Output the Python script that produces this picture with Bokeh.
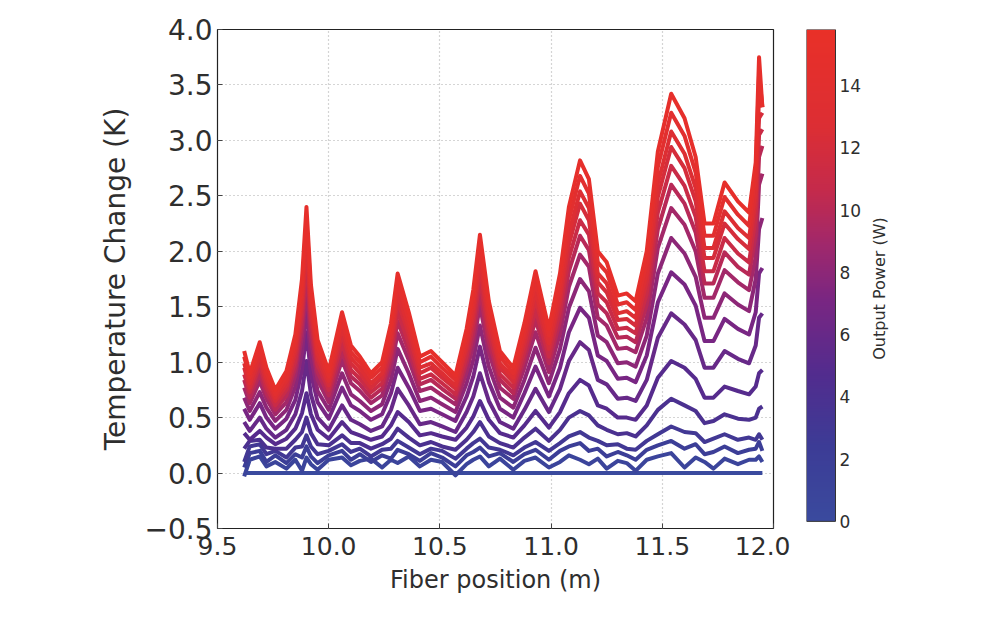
import math
import numpy as np
from bokeh.plotting import figure
from bokeh.layouts import row
from bokeh.models import LinearColorMapper, FixedTicker, Range1d
from bokeh.core.properties import value
from bokeh.embed import file_html
from bokeh.resources import INLINE

# ---------------- data ----------------
fiber_pos = [9.62, 9.645, 9.69, 9.72, 9.76, 9.81, 9.85, 9.88, 9.90, 9.92,
             9.95, 10.00, 10.06, 10.10, 10.14, 10.19, 10.24, 10.28, 10.31, 10.36,
             10.41, 10.46, 10.51, 10.57, 10.62, 10.65, 10.68, 10.72, 10.77, 10.83,
             10.88, 10.93, 10.99, 11.04, 11.08, 11.13, 11.17, 11.21, 11.25, 11.30,
             11.34, 11.38, 11.43, 11.48, 11.54, 11.60, 11.65, 11.69, 11.73, 11.78,
             11.84, 11.89, 11.92, 11.935, 11.95]

power_w = [0, 1, 2, 3, 4, 5, 6, 7, 8, 9, 10, 11, 12, 13, 14, 15]

dT_p0 = [0.0] * len(fiber_pos)
dT_p1 = [-0.03, 0.12, 0.15, 0.06, 0.10, 0.04, 0.12, 0.02, 0.14, 0.08,
         0.03, 0.12, 0.14, 0.07, 0.11, 0.13, 0.05, 0.12, 0.09, 0.15,
         0.06, 0.12, 0.10, -0.02, 0.08, 0.12, 0.15, 0.06, 0.13, 0.03,
         0.11, 0.14, 0.05, 0.10, 0.16, 0.12, 0.08, 0.13, 0.04, 0.11,
         0.09, 0.02, 0.12, 0.15, 0.18, 0.05, 0.14, 0.10, 0.04, 0.13,
         0.08, 0.12, 0.12, 0.15, 0.10]
dT_p2 = [0.05, 0.18, 0.20, 0.10, 0.16, 0.09, 0.17, 0.14, 0.24, 0.15,
         0.09, 0.16, 0.20, 0.12, 0.17, 0.10, 0.16, 0.13, 0.21, 0.17,
         0.11, 0.18, 0.14, 0.06, 0.16, 0.19, 0.23, 0.15, 0.18, 0.10,
         0.17, 0.21, 0.12, 0.20, 0.24, 0.27, 0.20, 0.22, 0.15, 0.19,
         0.16, 0.12, 0.21, 0.25, 0.29, 0.22, 0.26, 0.17, 0.19, 0.24,
         0.18, 0.21, 0.22, 0.28, 0.20]
dT_p3 = [0.10, 0.24, 0.26, 0.17, 0.20, 0.14, 0.23, 0.24, 0.34, 0.24,
         0.17, 0.20, 0.26, 0.19, 0.22, 0.15, 0.21, 0.22, 0.29, 0.23,
         0.17, 0.22, 0.20, 0.13, 0.22, 0.27, 0.31, 0.23, 0.21, 0.16,
         0.23, 0.28, 0.20, 0.27, 0.33, 0.37, 0.32, 0.29, 0.25, 0.26,
         0.22, 0.21, 0.29, 0.35, 0.42, 0.37, 0.36, 0.28, 0.31, 0.35,
         0.30, 0.32, 0.30, 0.35, 0.30]
dT_p4 = [0.22, 0.29, 0.30, 0.23, 0.22, 0.22, 0.30, 0.37, 0.50, 0.36,
         0.26, 0.25, 0.34, 0.27, 0.27, 0.22, 0.26, 0.31, 0.40, 0.32,
         0.25, 0.28, 0.24, 0.21, 0.30, 0.37, 0.46, 0.33, 0.27, 0.23,
         0.32, 0.40, 0.29, 0.39, 0.50, 0.56, 0.52, 0.43, 0.39, 0.35,
         0.36, 0.33, 0.43, 0.57, 0.67, 0.61, 0.56, 0.45, 0.47, 0.53,
         0.49, 0.48, 0.50, 0.58, 0.60]
dT_p5 = [0.36, 0.30, 0.38, 0.32, 0.26, 0.31, 0.40, 0.54, 0.72, 0.53,
         0.39, 0.31, 0.46, 0.37, 0.34, 0.30, 0.33, 0.43, 0.55, 0.46,
         0.34, 0.36, 0.33, 0.30, 0.41, 0.51, 0.65, 0.48, 0.36, 0.32,
         0.43, 0.56, 0.41, 0.55, 0.72, 0.84, 0.79, 0.61, 0.58, 0.50,
         0.50, 0.48, 0.61, 0.86, 1.01, 0.95, 0.85, 0.68, 0.68, 0.78,
         0.74, 0.71, 0.78, 0.90, 0.93]
dT_p6 = [0.46, 0.38, 0.50, 0.40, 0.32, 0.39, 0.53, 0.74, 1.01, 0.71,
         0.50, 0.39, 0.61, 0.48, 0.44, 0.38, 0.42, 0.57, 0.76, 0.61,
         0.44, 0.46, 0.42, 0.37, 0.55, 0.69, 0.90, 0.65, 0.46, 0.40,
         0.57, 0.76, 0.55, 0.76, 1.01, 1.18, 1.11, 0.84, 0.80, 0.67,
         0.68, 0.65, 0.84, 1.22, 1.44, 1.34, 1.20, 0.95, 0.95, 1.10,
         1.03, 0.99, 1.15, 1.40, 1.44]
dT_p7 = [0.58, 0.48, 0.63, 0.50, 0.40, 0.49, 0.66, 0.93, 1.27, 0.90,
         0.64, 0.49, 0.77, 0.61, 0.56, 0.48, 0.53, 0.72, 0.95, 0.77,
         0.56, 0.58, 0.53, 0.47, 0.69, 0.87, 1.14, 0.82, 0.58, 0.50,
         0.72, 0.96, 0.69, 0.95, 1.27, 1.49, 1.40, 1.06, 1.01, 0.85,
         0.86, 0.82, 1.06, 1.54, 1.81, 1.70, 1.51, 1.19, 1.19, 1.39,
         1.30, 1.25, 1.45, 1.80, 1.85]
dT_p8 = [0.68, 0.56, 0.73, 0.59, 0.47, 0.57, 0.78, 1.09, 1.49, 1.05,
         0.74, 0.57, 0.90, 0.71, 0.65, 0.56, 0.62, 0.84, 1.12, 0.90,
         0.65, 0.68, 0.62, 0.55, 0.81, 1.02, 1.33, 0.96, 0.68, 0.59,
         0.84, 1.13, 0.81, 1.12, 1.49, 1.75, 1.64, 1.24, 1.18, 0.99,
         1.00, 0.96, 1.24, 1.80, 2.12, 1.98, 1.77, 1.40, 1.40, 1.62,
         1.52, 1.46, 1.75, 2.20, 2.30]
dT_p9 = [0.77, 0.63, 0.83, 0.67, 0.53, 0.64, 0.88, 1.23, 1.68, 1.19,
         0.84, 0.64, 1.02, 0.81, 0.74, 0.63, 0.70, 0.95, 1.26, 1.02,
         0.74, 0.77, 0.70, 0.62, 0.91, 1.16, 1.51, 1.09, 0.77, 0.67,
         0.95, 1.27, 0.91, 1.26, 1.68, 1.97, 1.86, 1.40, 1.33, 1.12,
         1.13, 1.09, 1.40, 2.03, 2.39, 2.24, 2.00, 1.58, 1.58, 1.83,
         1.72, 1.65, 1.95, 2.60, 2.70]
dT_p10 = [0.84, 0.68, 0.90, 0.72, 0.57, 0.70, 0.95, 1.33, 1.82, 1.29,
          0.91, 0.70, 1.10, 0.87, 0.80, 0.68, 0.76, 1.03, 1.37, 1.10,
          0.80, 0.84, 0.76, 0.67, 0.99, 1.25, 1.63, 1.18, 0.84, 0.72,
          1.03, 1.38, 0.99, 1.37, 1.82, 2.14, 2.01, 1.52, 1.44, 1.22,
          1.23, 1.18, 1.52, 2.20, 2.60, 2.43, 2.17, 1.71, 1.71, 1.99,
          1.86, 1.79, 2.15, 2.85, 2.95]
dT_p11 = [0.89, 0.73, 0.96, 0.77, 0.61, 0.75, 1.01, 1.42, 1.94, 1.38,
          0.97, 0.75, 1.17, 0.93, 0.85, 0.73, 0.81, 1.09, 1.46, 1.17,
          0.85, 0.89, 0.81, 0.71, 1.05, 1.34, 1.74, 1.26, 0.89, 0.77,
          1.09, 1.47, 1.05, 1.46, 1.94, 2.28, 2.15, 1.62, 1.54, 1.30,
          1.31, 1.26, 1.62, 2.35, 2.77, 2.59, 2.31, 1.82, 1.82, 2.12,
          1.98, 1.90, 2.30, 3.05, 3.10]
dT_p12 = [0.95, 0.77, 1.01, 0.82, 0.65, 0.79, 1.08, 1.51, 2.06, 1.46,
          1.03, 0.79, 1.25, 0.99, 0.90, 0.77, 0.86, 1.16, 1.55, 1.25,
          0.90, 0.95, 0.86, 0.76, 1.12, 1.42, 1.85, 1.33, 0.95, 0.82,
          1.16, 1.57, 1.12, 1.55, 2.06, 2.43, 2.28, 1.72, 1.63, 1.38,
          1.39, 1.33, 1.72, 2.49, 2.94, 2.75, 2.45, 1.94, 1.94, 2.25,
          2.11, 2.02, 2.45, 3.20, 3.25]
dT_p13 = [0.99, 0.81, 1.06, 0.86, 0.68, 0.83, 1.13, 1.58, 2.16, 1.53,
          1.08, 0.83, 1.31, 1.04, 0.95, 0.81, 0.90, 1.22, 1.62, 1.31,
          0.95, 0.99, 0.90, 0.79, 1.17, 1.49, 1.94, 1.40, 0.99, 0.86,
          1.22, 1.64, 1.17, 1.62, 2.16, 2.54, 2.39, 1.80, 1.71, 1.44,
          1.46, 1.40, 1.80, 2.61, 3.08, 2.88, 2.57, 2.03, 2.03, 2.36,
          2.21, 2.12, 2.55, 3.40, 3.30]
dT_p14 = [1.05, 0.86, 1.12, 0.90, 0.71, 0.87, 1.19, 1.66, 2.28, 1.62,
          1.14, 0.87, 1.38, 1.09, 1.00, 0.86, 0.95, 1.28, 1.71, 1.38,
          1.00, 1.05, 0.95, 0.84, 1.24, 1.57, 2.04, 1.47, 1.05, 0.90,
          1.28, 1.73, 1.24, 1.71, 2.28, 2.68, 2.52, 1.90, 1.81, 1.52,
          1.54, 1.47, 1.90, 2.76, 3.25, 3.04, 2.71, 2.14, 2.14, 2.49,
          2.33, 2.23, 2.70, 3.60, 3.30]
dT_p15 = [1.10, 0.90, 1.18, 0.95, 0.75, 0.92, 1.25, 1.75, 2.40, 1.70,
          1.20, 0.92, 1.45, 1.15, 1.05, 0.90, 1.00, 1.35, 1.80, 1.45,
          1.05, 1.10, 1.00, 0.88, 1.30, 1.65, 2.15, 1.55, 1.10, 0.95,
          1.35, 1.82, 1.30, 1.80, 2.40, 2.82, 2.65, 2.00, 1.90, 1.60,
          1.62, 1.55, 2.00, 2.90, 3.42, 3.20, 2.85, 2.25, 2.25, 2.62,
          2.45, 2.35, 2.80, 3.75, 3.30]

series = [dT_p0, dT_p1, dT_p2, dT_p3, dT_p4, dT_p5, dT_p6, dT_p7,
          dT_p8, dT_p9, dT_p10, dT_p11, dT_p12, dT_p13, dT_p14, dT_p15]

x_ticks = [9.5, 10.0, 10.5, 11.0, 11.5, 12.0]
y_ticks = [-0.5, 0.0, 0.5, 1.0, 1.5, 2.0, 2.5, 3.0, 3.5, 4.0]
cbar_ticks = [0, 2, 4, 6, 8, 10, 12, 14]
cbar_labels = ["0", "2", "4", "6", "8", "10", "12", "14"]
cbar_max = 15.8

# ---------------- colormap (blue -> purple -> red) ----------------
anchors = [(0.0, (58, 74, 158)), (0.15, (60, 60, 150)), (0.3, (82, 44, 142)),
           (0.45, (122, 38, 130)), (0.56, (160, 40, 108)), (0.67, (196, 42, 76)),
           (0.8, (220, 46, 52)), (1.0, (233, 48, 40))]


def cmap(t):
    t = min(max(t, 0.0), 1.0)
    for (t0, c0), (t1, c1) in zip(anchors[:-1], anchors[1:]):
        if t <= t1:
            f = (t - t0) / (t1 - t0)
            return "#%02x%02x%02x" % tuple(int(round(a + (b - a) * f)) for a, b in zip(c0, c1))
    return "#%02x%02x%02x" % anchors[-1][1]


palette = [cmap(i / 255) for i in range(256)]

FONT = "DejaVu Sans"
TXT = "#2e2e2e"

# ---------------- main plot ----------------
p = figure(frame_width=556, frame_height=499, output_backend="svg", toolbar_location=None,
           x_range=Range1d(9.5, 12.0), y_range=Range1d(-0.5, 4.0),
           min_border_left=217, min_border_right=17, min_border_top=29, min_border_bottom=70)

for pw, ys in zip(power_w, series):
    p.line(fiber_pos, ys, line_color=cmap(pw / cbar_max), line_width=4, line_join="round")

p.outline_line_color = "#222222"
p.outline_line_width = 1.2

for ax in (p.xaxis[0], p.yaxis[0]):
    ax.axis_line_color = None
    ax.major_tick_in = 5
    ax.major_tick_out = 0
    ax.major_tick_line_color = "#444444"
    ax.minor_tick_line_color = None
    ax.major_label_text_font = FONT
    ax.major_label_text_color = TXT
    ax.axis_label_text_font = FONT
    ax.axis_label_text_font_style = "normal"
    ax.axis_label_text_color = TXT

p.xaxis[0].major_label_text_font_size = "25px"
p.yaxis[0].major_label_text_font_size = "28px"
p.xaxis[0].axis_label_text_font_size = "24px"
p.yaxis[0].axis_label_text_font_size = "28px"

p.xaxis[0].ticker = FixedTicker(ticks=x_ticks)
p.yaxis[0].ticker = FixedTicker(ticks=y_ticks)
p.xaxis[0].major_label_overrides = {v: "%.1f" % v for v in x_ticks}
p.yaxis[0].major_label_overrides = {v: ("%.1f" % v).replace("-", "\u2212") for v in y_ticks}
p.xaxis[0].axis_label = "Fiber position (m)"
p.yaxis[0].axis_label = "Temperature Change (K)"
p.xaxis[0].major_label_standoff = 8
p.yaxis[0].major_label_standoff = 5
p.xaxis[0].axis_label_standoff = 8
p.yaxis[0].axis_label_standoff = 10

p.grid.grid_line_color = "#aaaaaa"
p.grid.grid_line_dash = "1 3"
p.grid.grid_line_width = 1.2

# ---------------- colour bar (separate narrow panel) ----------------
cbf = figure(width=200, frame_height=523, output_backend="svg", toolbar_location=None,
             x_range=Range1d(0, 184), y_range=Range1d(-1.0, cbar_max),
             x_axis_type=None, y_axis_type=None,
             min_border_left=16, min_border_right=0, min_border_top=29, min_border_bottom=20)
cbf.grid.visible = False
cbf.outline_line_color = None

mapper = LinearColorMapper(palette=palette, low=0, high=cbar_max)
grad = np.linspace(0, cbar_max, 256).reshape(256, 1)
cbf.image(image=[grad], x=0, y=0, dw=29, dh=cbar_max, color_mapper=mapper)
cbf.quad(left=[0], right=[29], bottom=[0], top=[cbar_max],
         fill_color=None, line_color="#333333", line_width=1)
cbf.text(x=[33] * len(cbar_ticks), y=cbar_ticks, text=cbar_labels,
         text_baseline="middle", text_align="left", text_font_size="17px",
         text_font=value(FONT), text_color=TXT)
cbf.text(x=[73], y=[7.48], text=["Output Power (W)"], angle=math.pi / 2,
         text_align="center", text_baseline="middle", text_font_size="16px",
         text_font=value(FONT), text_color=TXT)

layout = row(p, cbf)
open("out.html", "w").write(file_html(layout, INLINE))
